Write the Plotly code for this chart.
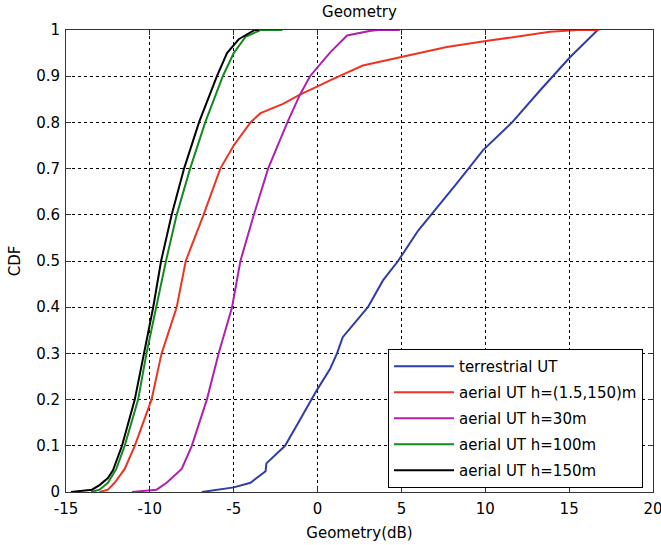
import plotly.graph_objects as go

# ---- data ----
x_ticks = [-15, -10, -5, 0, 5, 10, 15, 20]
y_ticks = [0, 0.1, 0.2, 0.3, 0.4, 0.5, 0.6, 0.7, 0.8, 0.9, 1]
y_tick_labels = ["0", "0.1", "0.2", "0.3", "0.4", "0.5", "0.6", "0.7", "0.8", "0.9", "1"]

terrestrial_x = [-6.9, -5.8, -5.0, -4.0, -3.25, -3.1, -3.05, -1.94, -1.15, -0.35, -0.05, 0.74, 1.16, 1.5,
                 3.0, 3.9, 4.8, 6.0, 7.0, 8.3, 9.87, 11.6, 13.26, 15.05, 16.7]
terrestrial_y = [0, 0.005, 0.01, 0.02, 0.04, 0.045, 0.062, 0.1, 0.15, 0.2, 0.22, 0.266, 0.3, 0.335,
                 0.40, 0.458, 0.50, 0.566, 0.61, 0.668, 0.74, 0.80, 0.869, 0.941, 1.0]

aerial_mix_x = [-13.0, -12.5, -12.1, -11.5, -10.9, -9.9, -9.3, -8.4, -7.86, -6.8, -5.8, -5.0, -4.0,
                -3.4, -2.06, -1.05, 0.0, 0.74, 2.7, 5.03, 7.7, 10.04, 12.67, 13.86, 15.5, 16.8]
aerial_mix_y = [0, 0.005, 0.02, 0.05, 0.1, 0.2, 0.3, 0.4, 0.5, 0.6, 0.7, 0.75, 0.8,
                0.82, 0.84, 0.86, 0.878, 0.891, 0.923, 0.941, 0.963, 0.976, 0.989, 0.996, 1, 1]

aerial_30_x = [-11.07, -9.6, -9.0, -8.1, -7.5, -6.6, -5.9, -5.1, -4.6, -3.8, -2.95, -1.8, -1.05,
               -0.45, 0.74, 1.76, 3.1, 3.6, 4.9]
aerial_30_y = [0, 0.005, 0.02, 0.05, 0.1, 0.2, 0.3, 0.4, 0.5, 0.6, 0.7, 0.8, 0.86,
               0.9, 0.951, 0.988, 0.998, 1, 1]

aerial_100_x = [-13.5, -13.0, -12.5, -12.0, -11.5, -10.7, -10.2, -9.63, -9.04, -8.4, -7.6, -6.7,
                -5.65, -5.0, -4.3, -3.4, -2.1]
aerial_100_y = [0, 0.005, 0.02, 0.05, 0.1, 0.2, 0.3, 0.4, 0.5, 0.6, 0.7, 0.8,
                0.9, 0.95, 0.985, 1, 1]

aerial_150_x = [-14.7, -13.45, -13.0, -12.5, -12.2, -11.66, -10.9, -10.35, -9.8, -9.33, -8.7, -7.96,
                -7.07, -6.0, -5.4, -4.7, -3.75, -3.5]
aerial_150_y = [0, 0.005, 0.015, 0.03, 0.047, 0.1, 0.2, 0.3, 0.4, 0.5, 0.6, 0.7,
                0.8, 0.9, 0.95, 0.98, 1, 1]

series = [
    ("terrestrial UT", terrestrial_x, terrestrial_y, "#2d3da8"),
    ("aerial UT h=(1.5,150)m", aerial_mix_x, aerial_mix_y, "#ee3322"),
    ("aerial UT h=30m", aerial_30_x, aerial_30_y, "#b020b0"),
    ("aerial UT h=100m", aerial_100_x, aerial_100_y, "#128a1e"),
    ("aerial UT h=150m", aerial_150_x, aerial_150_y, "#000000"),
]

FONT = "DejaVu Sans"

fig = go.Figure()
for i, (name, xs, ys, col) in enumerate(series):
    fig.add_trace(go.Scatter(x=xs, y=ys, mode="lines", name=name, legendgroup=f"g{i}",
                             line=dict(color=col, width=2)))

axis_common = dict(
    showline=True, linecolor="#333333", linewidth=1, mirror="ticks",
    ticks="inside", ticklen=5, tickcolor="#333333", tickwidth=1,
    showgrid=True, gridcolor="#000000", gridwidth=1, griddash="3px,3px",
    zeroline=False, tickfont=dict(family=FONT, size=15, color="#000000"),
    ticklabeloverflow="allow", automargin=False,
)

fig.update_xaxes(range=[-15, 20], tickvals=x_ticks, ticktext=[str(v) for v in x_ticks],
                 ticklabelstandoff=3,
                 title=dict(text="Geometry(dB)", font=dict(family=FONT, size=15, color="#000"), standoff=10),
                 **axis_common)
fig.update_yaxes(range=[0, 1], tickvals=y_ticks, ticktext=y_tick_labels,
                 ticklabelstandoff=2,
                 title=dict(text="CDF", font=dict(family=FONT, size=15, color="#000"), standoff=11),
                 **axis_common)

fig.update_layout(
    width=661, height=545,
    margin=dict(l=66, r=8, t=30, b=53),
    paper_bgcolor="white", plot_bgcolor="white",
    font=dict(family=FONT, size=15, color="#000"),
    title=dict(text="Geometry", x=(66 + 653) / 2 / 661, xanchor="center",
               y=1 - 12 / 545, yanchor="middle", font=dict(family=FONT, size=15, color="#000")),
    showlegend=True,
    legend=dict(x=(388 - 66) / 587, y=(492 - 349) / 462, xanchor="left", yanchor="top",
                bgcolor="white", bordercolor="#000000", borderwidth=1,
                font=dict(family=FONT, size=15, color="#000"),
                itemwidth=60, traceorder="grouped", tracegroupgap=3.5),
)

fig.write_html("out.html")
